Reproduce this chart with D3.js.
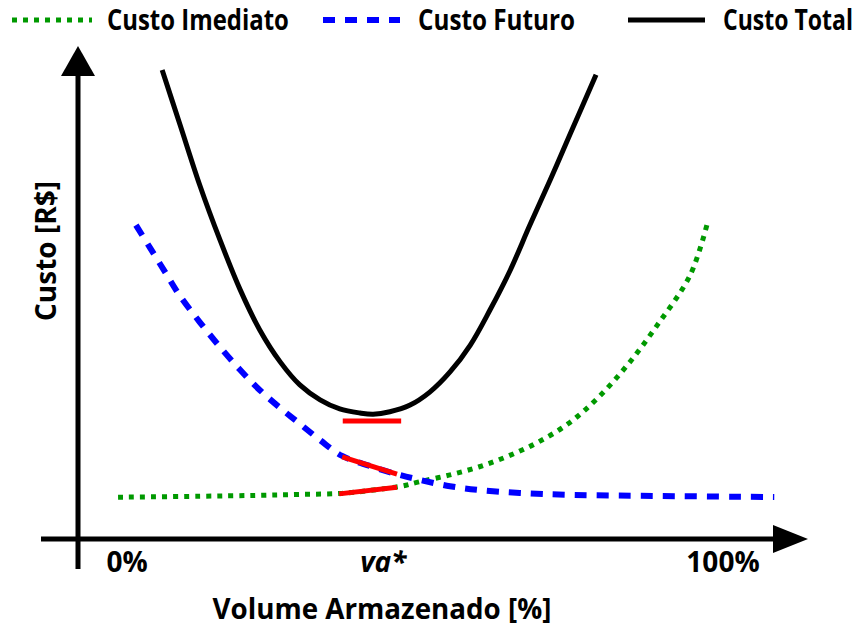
<!DOCTYPE html>
<html><head><meta charset="utf-8">
<script src="https://cdn.jsdelivr.net/npm/d3@7/dist/d3.min.js"></script>
<style>body{margin:0;background:#fff}svg{display:block}</style>
</head><body>
<script>
// ---- data (x: Volume Armazenado [%], y: Custo, arbitrary units) ----
const seriesNames = ["Custo Imediato", "Custo Futuro", "Custo Total"];
const seriesColors = ["#009900", "#0000ff", "#000000"];

const imediatoX = [-1.5, 12, 22, 29, 36, 42, 46, 49, 54, 59, 64, 69, 74, 79, 84, 89, 94.5, 97.3];
const imediatoY = [8.7, 8.9, 9.1, 9.3, 9.5, 10.3, 11.0, 11.9, 13.3, 15.0, 17.3, 20.2, 24.0, 29.4, 36.3, 44.6, 55.0, 65.4];

const futuroX = [1.5, 3.9, 6.4, 8.8, 12.2, 15.6, 19.0, 22.3, 25.7, 29.0, 32.4, 36.1, 40.8, 45.3, 49.2, 54.2, 59.2, 65.9, 74.3, 86.1, 108.6];
const futuroY = [65.4, 60.6, 55.6, 50.8, 45.2, 40.0, 35.2, 31.0, 27.3, 24.0, 20.6, 17.3, 15.2, 13.5, 12.3, 11.0, 10.2, 9.6, 9.2, 9.0, 8.75];

const totalX = [5.9, 8.9, 12.2, 15.6, 19.0, 22.3, 25.7, 29.0, 32.4, 35.7, 39.1, 41.3, 44.1, 47.5, 50.8, 54.2, 57.6, 60.9, 64.3, 67.6, 71.0, 74.3, 78.7];
const totalY = [97.7, 86.3, 73.75, 62.3, 51.9, 43.5, 36.9, 32.1, 29.0, 27.1, 26.25, 26.0, 26.5, 27.9, 30.6, 34.8, 40.4, 47.7, 56.0, 65.4, 74.8, 84.2, 96.7];

// red tangent markers: [x1, y1, x2, y2]
const tangentTotal = [36.2, 24.6, 46.0, 24.6];
const tangentFuturo = [36.1, 17.1, 45.3, 13.5];
const tangentImediato = [35.6, 9.4, 45.3, 10.8];

const xTickValues = [0, 43, 100];
const xTickLabels = ["0%", "va*", "100%"];
const xTitle = "Volume Armazenado [%]";
const yTitle = "Custo [R$]";

// ---- layout ----
const W = 860, H = 628;
const svg = d3.select("body").append("svg").attr("width", W).attr("height", H);
const x = d3.scaleLinear().domain([0, 100]).range([127, 723]);
const y = d3.scaleLinear().domain([0, 100]).range([539, 59]);
const FONT = "'Open Sans', 'Noto Sans', sans-serif";

const axisX0 = 78;          // vertical axis position (px)
const axisY0 = y(0);        // horizontal axis position

// text squeezed horizontally to a target width
function squeezedText(x0, y0, width, str, anchor) {
  const g = svg.append("g");
  const t = g.append("text").attr("x", 0).attr("y", 0)
    .attr("font-family", FONT).attr("font-weight", 700).attr("font-size", 28).text(str);
  const natural = t.node().getComputedTextLength();
  const s = Math.min(1, width / natural);
  const left = anchor === "middle" ? x0 - width / 2 : x0;
  g.attr("transform", `translate(${left},${y0}) scale(${s},1)`);
  return g;
}

// axes
svg.append("line").attr("x1", axisX0).attr("x2", axisX0).attr("y1", axisY0 + 30).attr("y2", 72)
  .attr("stroke", "#000").attr("stroke-width", 5);
svg.append("path").attr("d", `M${axisX0 - 17},76 L${axisX0 + 17},76 L${axisX0},46 Z`).attr("fill", "#000");
svg.append("line").attr("x1", 41).attr("x2", 776).attr("y1", axisY0).attr("y2", axisY0)
  .attr("stroke", "#000").attr("stroke-width", 5);
svg.append("path").attr("d", `M773,${axisY0 - 14} L773,${axisY0 + 14} L808,${axisY0} Z`).attr("fill", "#000");

// tick labels
xTickValues.forEach((v, i) => {
  svg.append("text").attr("x", x(v)).attr("y", 572).attr("text-anchor", "middle")
    .attr("font-family", FONT).attr("font-weight", 700).attr("font-size", 28)
    .attr("font-style", i === 1 ? "italic" : "normal").text(xTickLabels[i]);
});
squeezedText(382, 619, 339, xTitle, "middle");
svg.append("text").attr("transform", "translate(56,251) rotate(-90)").attr("text-anchor", "middle")
  .attr("font-family", FONT).attr("font-weight", 700).attr("font-size", 28).text(yTitle);

// curves
const line = d3.line().x(d => x(d[0])).y(d => y(d[1])).curve(d3.curveCatmullRom.alpha(0.5));
const zip = (a, b) => a.map((v, i) => [v, b[i]]);
const styles = [
  {w: 5, dash: "5,6"},
  {w: 6, dash: "12,10"},
  {w: 5, dash: null}
];
const series = [zip(imediatoX, imediatoY), zip(futuroX, futuroY), zip(totalX, totalY)];
series.forEach((s, i) => {
  svg.append("path").datum(s).attr("d", line).attr("fill", "none")
    .attr("stroke", seriesColors[i]).attr("stroke-width", styles[i].w)
    .attr("stroke-dasharray", styles[i].dash);
});

// red tangents
[tangentTotal, tangentFuturo, tangentImediato].forEach(t => {
  svg.append("line").attr("x1", x(t[0])).attr("y1", y(t[1])).attr("x2", x(t[2])).attr("y2", y(t[3]))
    .attr("stroke", "#ff0000").attr("stroke-width", 5);
});

// legend
const legLines = [[12, 92], [323, 400], [628, 705]];
const legText = [[107, 182], [418, 157], [723, 130]];
seriesNames.forEach((n, i) => {
  svg.append("line").attr("x1", legLines[i][0]).attr("x2", legLines[i][1]).attr("y1", 20).attr("y2", 20)
    .attr("stroke", seriesColors[i]).attr("stroke-width", styles[i].w)
    .attr("stroke-dasharray", styles[i].dash);
  squeezedText(legText[i][0], 30, legText[i][1], n, "start");
});
</script>
</body></html>
